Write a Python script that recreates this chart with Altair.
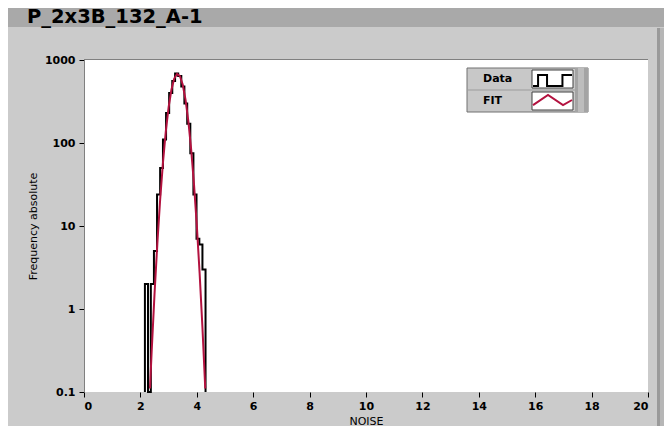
import altair as alt
import pandas as pd

TITLE = "P_2x3B_132_A-1"
X_TITLE = "NOISE"
Y_TITLE = "Frequency absolute"
LEGEND_NAMES = ["Data", "FIT"]

# histogram (bin edges and counts)
bin_edges = [2.16, 2.27, 2.37, 2.48, 2.59, 2.70, 2.80, 2.91, 3.02, 3.13, 3.23,
             3.34, 3.45, 3.56, 3.66, 3.77, 3.88, 3.99, 4.09, 4.20, 4.31]
bin_counts = [2, 0, 2, 5, 24, 50, 110, 230, 400, 560, 690,
              640, 480, 300, 170, 75, 24, 7, 6, 3]

# fitted gaussian
fit_x = [2.34, 2.40, 2.50, 2.60, 2.70, 2.80, 2.90, 3.00, 3.10, 3.20, 3.30,
         3.40, 3.50, 3.60, 3.70, 3.80, 3.90, 4.00, 4.10, 4.20, 4.30]
fit_y = [0.11, 0.31, 1.5, 6.1, 20.7, 58, 137, 268, 438, 597, 680,
         641, 506, 333, 183, 84, 32, 10.2, 2.7, 0.60, 0.11]

x_ticks = [0, 2, 4, 6, 8, 10, 12, 14, 16, 18, 20]
y_ticks = [0.1, 1, 10, 100, 1000]

# build tables
hx = [bin_edges[0]] + bin_edges[:-1] + [bin_edges[-1]]
hy = [0] + bin_counts + [0]
hist = pd.DataFrame({"x": hx, "count": hy, "i": list(range(len(hx)))})
fit = pd.DataFrame({"x": fit_x, "y": fit_y, "i": list(range(len(fit_x)))})

FONT = "DejaVu Sans"

x_enc = alt.X("x:Q", scale=alt.Scale(domain=[0, 20], nice=False, zero=False),
              axis=alt.Axis(values=x_ticks, title=X_TITLE, domain=False,
                            labelPadding=3, titlePadding=4, format="d"))
y_axis = alt.Axis(values=y_ticks, title=Y_TITLE, format=".1~f",
                  domainColor="#808080", labelPadding=4, titlePadding=6)
y_scale = alt.Scale(type="log", domain=[0.1, 1000], nice=False)

hist_layer = alt.Chart(hist).transform_calculate(
    y="max(datum.count, 0.1)"
).mark_line(interpolate="step-after", color="black", strokeWidth=2).encode(
    x=x_enc,
    y=alt.Y("y:Q", scale=y_scale, axis=y_axis),
    order="i:Q",
)

fit_layer = alt.Chart(fit).mark_line(color="#B3123F", strokeWidth=2).encode(
    x=x_enc,
    y=alt.Y("y:Q", scale=y_scale, axis=y_axis),
    order="i:Q",
)

one = pd.DataFrame({"label": [TITLE]})
deco = alt.Chart(one)

title_bar = deco.mark_rect(color="#A9A9A9").encode(
    x=alt.value(-76), x2=alt.value(580), y=alt.value(-52), y2=alt.value(-33))
right_dark = deco.mark_rect(color="#9A9A9A").encode(
    x=alt.value(573), x2=alt.value(576), y=alt.value(-32), y2=alt.value(366))
right_mid = deco.mark_rect(color="#B6B6B6").encode(
    x=alt.value(576), x2=alt.value(580), y=alt.value(-32), y2=alt.value(366))
title_text = deco.mark_text(align="left", baseline="alphabetic", font=FONT,
                            fontWeight="bold", fontSize=19.5, color="black").encode(
    x=alt.value(-57), y=alt.value(-37), text="label:N")
top_border = deco.mark_rule(color="#808080", strokeWidth=1).encode(
    x=alt.value(0), x2=alt.value(564), y=alt.value(-0.5))

# legend box
leg_box = deco.mark_rect(color="#C8C8C8", stroke="#707070", strokeWidth=1).encode(
    x=alt.value(383), x2=alt.value(504), y=alt.value(8), y2=alt.value(52))
leg_band = deco.mark_rect(color="#A4A4A4").encode(
    x=alt.value(491), x2=alt.value(504), y=alt.value(8), y2=alt.value(52))
leg_band2 = deco.mark_rect(color="#BDBDBD").encode(
    x=alt.value(494), x2=alt.value(500), y=alt.value(8), y2=alt.value(52))
leg_div = deco.mark_rule(color="#9C9C9C").encode(
    x=alt.value(383), x2=alt.value(491), y=alt.value(30))
icon1 = deco.mark_rect(color="white", stroke="#404040", strokeWidth=1).encode(
    x=alt.value(448), x2=alt.value(489), y=alt.value(10), y2=alt.value(28))
icon2 = deco.mark_rect(color="white", stroke="#404040", strokeWidth=1).encode(
    x=alt.value(448), x2=alt.value(489), y=alt.value(32), y2=alt.value(50))

leg_df = pd.DataFrame({"name": LEGEND_NAMES})
leg_data_lbl = alt.Chart(leg_df).transform_filter(alt.datum.name == LEGEND_NAMES[0]).mark_text(
    align="left", baseline="middle", font=FONT, fontWeight="bold", fontSize=11, color="black"
).encode(x=alt.value(399), y=alt.value(19), text="name:N")
leg_fit_lbl = alt.Chart(leg_df).transform_filter(alt.datum.name == LEGEND_NAMES[1]).mark_text(
    align="left", baseline="middle", font=FONT, fontWeight="bold", fontSize=11, color="black"
).encode(x=alt.value(399), y=alt.value(41), text="name:N")

STEP_PATH = "M-1,0.28L-0.74,0.28L-0.74,-0.28L-0.28,-0.28L-0.28,0.28L0.51,0.28L0.51,-0.28L1,-0.28"
ZIG_PATH = "M-1,0.26L-0.23,-0.26L0.54,0.26L1,0"
step_icon = deco.mark_point(shape=STEP_PATH, filled=False, stroke="black", strokeWidth=2,
                            size=1521, opacity=1).encode(x=alt.value(468.5), y=alt.value(20.5))
zig_icon = deco.mark_point(shape=ZIG_PATH, filled=False, stroke="#B3123F", strokeWidth=2,
                           size=1521, opacity=1).encode(x=alt.value(468.5), y=alt.value(40))

chart = alt.layer(
    title_bar, right_dark, right_mid, title_text,
    hist_layer, fit_layer, top_border,
    leg_box, leg_band, leg_band2, leg_div, icon1, icon2,
    leg_data_lbl, leg_fit_lbl, step_icon, zig_icon,
).properties(
    width=564, height=332,
    autosize=alt.AutoSizeParams(type="none"),
    padding={"left": 76, "top": 52, "right": 16, "bottom": 34},
    background="#CBCBCB",
).configure_view(
    fill="white", stroke=None,
).configure_axis(
    labelFont=FONT, labelFontWeight="bold", labelFontSize=11, labelColor="black",
    tickColor="black", tickSize=5, titleFont=FONT, titleFontWeight="normal",
    titleFontSize=11, titleColor="black", grid=False,
)

chart.save("out.html", embed_options={"renderer": "svg", "actions": False})
